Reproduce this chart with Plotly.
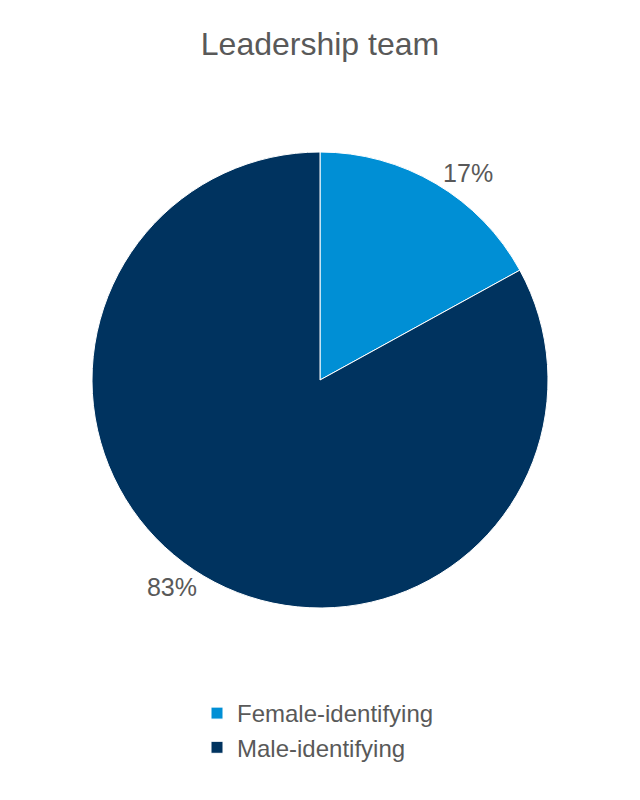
import plotly.graph_objects as go

categories = ["Female-identifying", "Male-identifying"]
values = [17, 83]
colors = ["#008FD5", "#00335F"]

W, H = 640, 800
OFF = 8  # page body margin

fig = go.Figure(go.Pie(
    labels=categories,
    values=values,
    marker=dict(colors=colors, line=dict(color="white", width=1)),
    sort=False,
    direction="clockwise",
    rotation=0,
    textposition="outside",
    texttemplate="%{percent:.0%}",
    textfont=dict(family="Liberation Sans, Arial, sans-serif", size=25, color="#595959"),
    domain=dict(x=[(92 - OFF) / W, (548 - OFF) / W],
                y=[1 - (608 - OFF) / H, 1 - (152 - OFF) / H]),
    automargin=False,
    hoverinfo="label+percent",
))

fig.update_layout(
    width=W, height=H,
    margin=dict(l=0, r=0, t=0, b=0),
    paper_bgcolor="white",
    plot_bgcolor="white",
    font=dict(family="Liberation Sans, Arial, sans-serif", color="#595959"),
    title=dict(text="Leadership team", x=(320 - OFF) / W, xanchor="center",
               y=1 - (44 - OFF) / H, yanchor="middle",
               font=dict(size=32, color="#595959")),
    showlegend=True,
    legend=dict(x=(318 - OFF) / W, xanchor="center", y=1 - 683 / H, yanchor="top",
                font=dict(size=24, color="#595959"), bgcolor="rgba(0,0,0,0)",
                traceorder="normal"),
)

fig.write_html("out.html")
